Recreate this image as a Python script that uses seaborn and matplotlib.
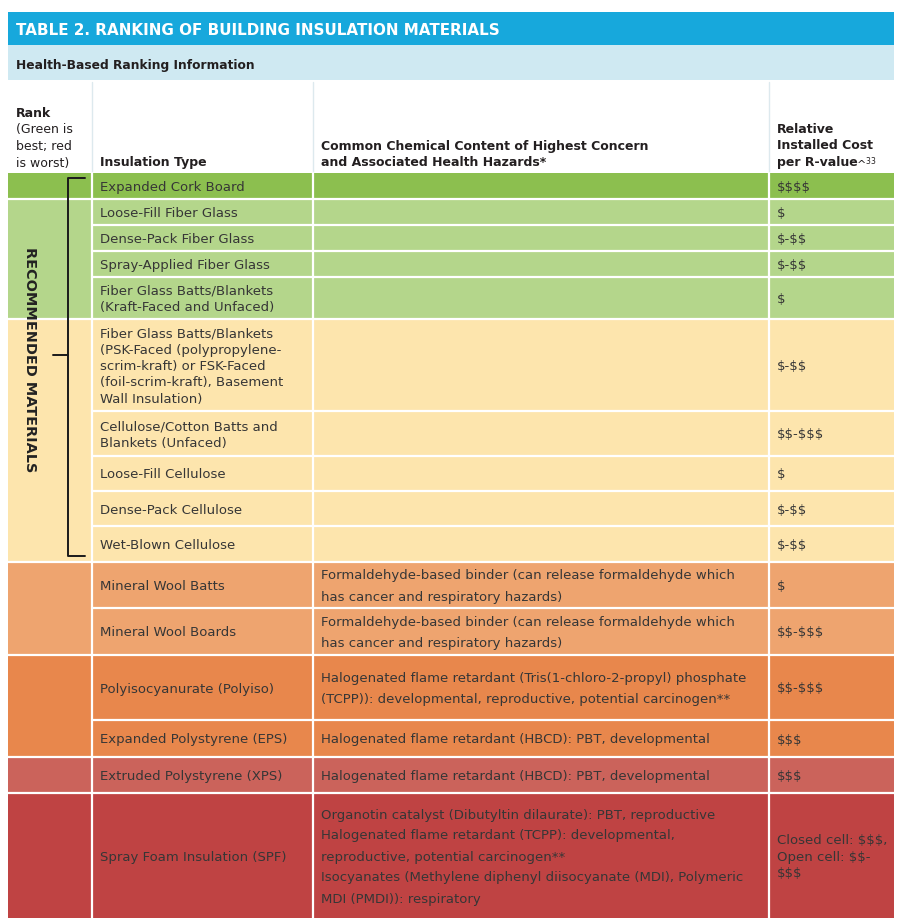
import numpy as np
import matplotlib.pyplot as plt
import seaborn as sns
from matplotlib.patches import Rectangle

sns.set_theme(style="white")
plt.rcParams['font.family'] = ['DejaVu Sans']

# --- datos de la tabla ---
title = "TABLE 2. RANKING OF BUILDING INSULATION MATERIALS"
subtitle = "Health-Based Ranking Information"

rank_group = [0, 1, 1, 1, 1, 2, 2, 2, 2, 2, 3, 3, 4, 4, 5, 6]

insulation_type = [
    "Expanded Cork Board",
    "Loose-Fill Fiber Glass",
    "Dense-Pack Fiber Glass",
    "Spray-Applied Fiber Glass",
    "Fiber Glass Batts/Blankets\n(Kraft-Faced and Unfaced)",
    "Fiber Glass Batts/Blankets\n(PSK-Faced (polypropylene-\nscrim-kraft) or FSK-Faced\n(foil-scrim-kraft), Basement\nWall Insulation)",
    "Cellulose/Cotton Batts and\nBlankets (Unfaced)",
    "Loose-Fill Cellulose",
    "Dense-Pack Cellulose",
    "Wet-Blown Cellulose",
    "Mineral Wool Batts",
    "Mineral Wool Boards",
    "Polyisocyanurate (Polyiso)",
    "Expanded Polystyrene (EPS)",
    "Extruded Polystyrene (XPS)",
    "Spray Foam Insulation (SPF)",
]

formaldehyde = "Formaldehyde-based binder (can release formaldehyde which\nhas cancer and respiratory hazards)"
hbcd = "Halogenated flame retardant (HBCD): PBT, developmental"
chemicals = [""] * 10 + [
    formaldehyde,
    formaldehyde,
    "Halogenated flame retardant (Tris(1-chloro-2-propyl) phosphate\n(TCPP)): developmental, reproductive, potential carcinogen**",
    hbcd,
    hbcd,
    "Organotin catalyst (Dibutyltin dilaurate): PBT, reproductive\nHalogenated flame retardant (TCPP): developmental,\nreproductive, potential carcinogen**\nIsocyanates (Methylene diphenyl diisocyanate (MDI), Polymeric\nMDI (PMDI)): respiratory",
]

cost = ["$$$$", "$", "$-$$", "$-$$", "$", "$-$$", "$$-$$$", "$", "$-$$", "$-$$",
        "$", "$$-$$$", "$$-$$$", "$$$", "$$$", "Closed cell: $$$,\nOpen cell: $$-\n$$$"]

# --- estilo / layout ---
group_colors = ['#8cbf4f', '#b4d68b', '#fde5ad', '#eea46f', '#e8874c', '#cb635b', '#bf4343']
row_h = [26, 26, 26, 26, 42, 92, 45, 35, 35, 36, 46, 47, 65, 37, 36, 125]
x_cols = [8, 92, 313, 769, 894]
top = 173
txt = '#363636'
hdr = '#231f20'
hsize = 9.0

fig = plt.figure(figsize=(9, 9.23), dpi=100)
ax = fig.add_axes([0, 0, 1, 1])
ax.set_xlim(0, 900)
ax.set_ylim(923, 0)
ax.axis('off')


def draw_lines(x, yc, text, gap, **kw):
    lines = text.split('\n')
    n = len(lines)
    for k, line in enumerate(lines):
        ax.text(x, yc + (k - (n - 1) / 2) * gap, line, va='center_baseline',
                parse_math=False, **kw)


# cabecera
ax.add_patch(Rectangle((8, 12), 886, 33, color='#17a8dc', lw=0))
ax.text(16, 29, title, color='white', weight='bold', size=10.9, va='center_baseline')
ax.add_patch(Rectangle((8, 45), 886, 35, color='#cfe9f2', lw=0))
ax.text(16, 64, subtitle, color=hdr, weight='bold', size=8.8, va='center_baseline')

for x in x_cols[1:4]:
    ax.plot([x, x], [82, 172], color='#dde9ee', lw=1)

ax.text(16, 112, "Rank", color=hdr, weight='bold', size=hsize, va='center_baseline')
draw_lines(16, 145, "(Green is\nbest; red\nis worst)", 16.5, color=hdr, size=hsize)
ax.text(100, 161, "Insulation Type", color=hdr, weight='bold', size=hsize, va='center_baseline')
draw_lines(321, 153, "Common Chemical Content of Highest Concern\nand Associated Health Hazards*", 16.5,
           color=hdr, weight='bold', size=hsize)
draw_lines(777, 136, "Relative\nInstalled Cost", 16.5, color=hdr, weight='bold', size=hsize)
ax.text(777, 161, "per R-value", color=hdr, weight='bold', size=hsize, va='center_baseline')
ax.text(856, 161, r"^$^{\mathregular{33}}$", color=hdr, size=8, va='center_baseline')

# filas
edges = top + np.concatenate([[0], np.cumsum(row_h)])
for i in range(len(insulation_type)):
    y0, y1 = edges[i], edges[i + 1]
    yc = (y0 + y1) / 2
    ax.add_patch(Rectangle((x_cols[0], y0), x_cols[-1] - x_cols[0], y1 - y0,
                           color=group_colors[rank_group[i]], lw=0))
    draw_lines(100, yc, insulation_type[i], 16.3, color=txt, size=9.5)
    if chemicals[i]:
        draw_lines(321, yc, chemicals[i], 21, color=txt, size=9.5)
    draw_lines(777, yc, cost[i], 16.5, color=txt, size=9.5)

# separadores blancos
for i in range(1, len(edges) - 1):
    x_start = x_cols[0] if rank_group[i] != rank_group[i - 1] else x_cols[1]
    ax.plot([x_start, x_cols[-1]], [edges[i], edges[i]], color='white', lw=1.6)
for x in x_cols[1:4]:
    ax.plot([x, x], [edges[0], edges[-1]], color='white', lw=1.6)

# corchete "recommended"
ax.plot([85, 68, 68, 85], [178, 178, 556, 556], color='#1a1a1a', lw=1.4)
ax.plot([53, 68], [355, 355], color='#1a1a1a', lw=1.4)
ax.text(30, 360, "RECOMMENDED MATERIALS", rotation=270, weight='bold', size=10.4,
        color='#222222', ha='center', va='center')

plt.savefig("out.png", dpi=100)
